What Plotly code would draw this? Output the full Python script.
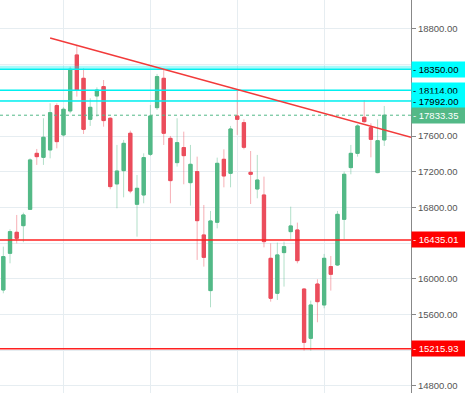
import plotly.graph_objects as go

opens = [15874, 16285, 16521, 16595, 16778, 17406, 17361, 17444, 17941, 17612,
         17881, 18509, 18247, 17787, 18049, 18154, 17799, 17063, 17212, 17631,
         16835, 16939, 17395, 17918, 18247, 17574, 17302, 17470, 17077, 17201,
         16491, 15867, 16633, 17339, 17182, 17825, 17750, 17193, 17006, 16939,
         16229, 15837, 16293, 16528, 16547, 15885, 15332, 15941, 15706, 16136,
         16154, 16666, 17246, 17406, 17810, 17694, 17190, 17556]
highs = [16360, 16554, 16715, 16741, 17350, 17455, 17799, 17967, 17967, 17922,
         18378, 18621, 18359, 18023, 18146, 18228, 17810, 17500, 17556, 17660,
         17163, 17406, 17948, 18296, 18348, 17601, 17799, 17649, 17500, 17369,
         16827, 16760, 17358, 17451, 17713, 18124, 17787, 17432, 17388, 17145,
         16397, 16405, 16416, 16808, 16629, 15892, 15755, 15994, 16278, 16255,
         16760, 17201, 17500, 17731, 18004, 17743, 17787, 17937]
lows = [15837, 16173, 16397, 16409, 16771, 17276, 17276, 17350, 17462, 17593,
        17855, 18042, 17623, 17713, 17817, 17705, 17003, 16790, 16913, 16958,
        16472, 16846, 17376, 17892, 17500, 16846, 17257, 17059, 16820, 16211,
        16136, 15680, 16565, 17025, 17025, 17612, 17451, 16838, 16902, 16352,
        15743, 15762, 15912, 16442, 16173, 15194, 15194, 15512, 15669, 15867,
        16143, 16442, 17171, 17369, 17750, 17361, 17182, 17489]
closes = [16248, 16528, 16453, 16715, 17332, 17369, 17586, 17862, 17537, 17900,
          18348, 18116, 17675, 17922, 18116, 17773, 17033, 17208, 17518, 16984,
          17014, 17358, 17825, 18266, 17631, 17100, 17526, 17380, 17283, 16651,
          16240, 16648, 17294, 17152, 17679, 17787, 17474, 17171, 17107, 16416,
          15781, 16267, 16360, 16592, 16203, 15287, 15706, 15743, 16229, 16050,
          16722, 17171, 17406, 17713, 17761, 17563, 17548, 17833.35]
bars = list(range(len(opens)))

# horizontal levels
level_values = [18350.00, 18114.00, 17992.00, 17833.35, 16435.01, 15215.93]
level_line_colors = ["#00f0f0", "#00f0f0", "#00f0f0", "#53b987", "#ff2020", "#ff2020"]
level_box_colors = ["#00ffff", "#00ffff", "#00ffff", "#53b987", "#ff0000", "#ff0000"]
level_text_colors = ["#000000", "#000000", "#000000", "#ffffff", "#ffffff", "#ffffff"]
level_dash = ["solid", "solid", "solid", "dot", "solid", "solid"]

# trendline
trend_x = [7, 61]
trend_y = [18699, 17585]

y_ticks = [14800, 15200, 15600, 16000, 16400, 16800, 17200, 17600, 18000, 18400, 18800]
y_tick_hidden = [15200, 16400, 18000, 18400]  # covered by level labels in the reference
x_grid = [9, 22, 35, 48]

GREEN = "#53b987"
RED = "#eb4d5c"
FONT = "Liberation Sans"

fig = go.Figure()

# level lines
for i, (v, c, d) in enumerate(zip(level_values, level_line_colors, level_dash)):
    if i == 0:
        fig.add_trace(go.Scatter(x=[-0.5, 61], y=[v + 20, v + 20], mode="lines",
                                 line=dict(color="rgba(0,240,240,0.35)", width=3),
                                 hoverinfo="skip", showlegend=False))
    fig.add_trace(go.Scatter(x=[-0.5, 61], y=[v, v], mode="lines",
                             line=dict(color=c, width=1.5 if d == "solid" else 1, dash=d),
                             hoverinfo="skip", showlegend=False))

# wicks (light)
fig.add_trace(go.Candlestick(
    x=bars, open=opens, high=highs, low=lows, close=closes,
    increasing=dict(line=dict(color="rgba(83,185,135,0.45)", width=1), fillcolor=GREEN),
    decreasing=dict(line=dict(color="rgba(235,77,92,0.45)", width=1), fillcolor=RED),
    hoverinfo="skip", showlegend=False))
# bodies (solid)
body_hi = [max(o, c) for o, c in zip(opens, closes)]
body_lo = [min(o, c) for o, c in zip(opens, closes)]
fig.add_trace(go.Candlestick(
    x=bars, open=opens, high=body_hi, low=body_lo, close=closes,
    increasing=dict(line=dict(color=GREEN, width=1), fillcolor=GREEN),
    decreasing=dict(line=dict(color=RED, width=1), fillcolor=RED),
    showlegend=False))

# trendline
fig.add_trace(go.Scatter(x=trend_x, y=trend_y, mode="lines",
                         line=dict(color="#f23a3a", width=1.5),
                         hoverinfo="skip", showlegend=False))

annotations = []
for v, bc, tc in zip(level_values, level_box_colors, level_text_colors):
    annotations.append(dict(
        x=1, xref="paper", y=v, yref="y", xanchor="left", yanchor="middle",
        xshift=0, text="- " + f"{v:.2f}", showarrow=False, align="left",
        bgcolor=bc, width=52, height=13, borderpad=1,
        font=dict(family=FONT, size=9.5, color=tc)))

fig.update_layout(
    width=465, height=393,
    margin=dict(l=0, r=54, t=0, b=0),
    paper_bgcolor="white", plot_bgcolor="white",
    showlegend=False,
    annotations=annotations,
    xaxis=dict(range=[-0.5, 61], showticklabels=False, rangeslider=dict(visible=False),
               tickvals=x_grid, showgrid=True, gridcolor="#e6edf1", gridwidth=1,
               zeroline=False, showline=False, ticks=""),
    yaxis=dict(side="right", range=[14719, 19125], tickvals=y_ticks,
               ticktext=["" if t in y_tick_hidden else f"{t:.2f}" for t in y_ticks],
               showgrid=True, gridcolor="#e6edf1", gridwidth=1, zeroline=False,
               showline=True, linecolor="#888888", linewidth=1,
               ticks="outside", ticklen=4, tickcolor="#888888", automargin=False,
               tickfont=dict(family=FONT, size=9.5, color="#555555")),
)

fig.write_html("out.html", config={"displayModeBar": False},
               post_script="document.body.style.margin='0px';document.body.style.padding='0px';")
